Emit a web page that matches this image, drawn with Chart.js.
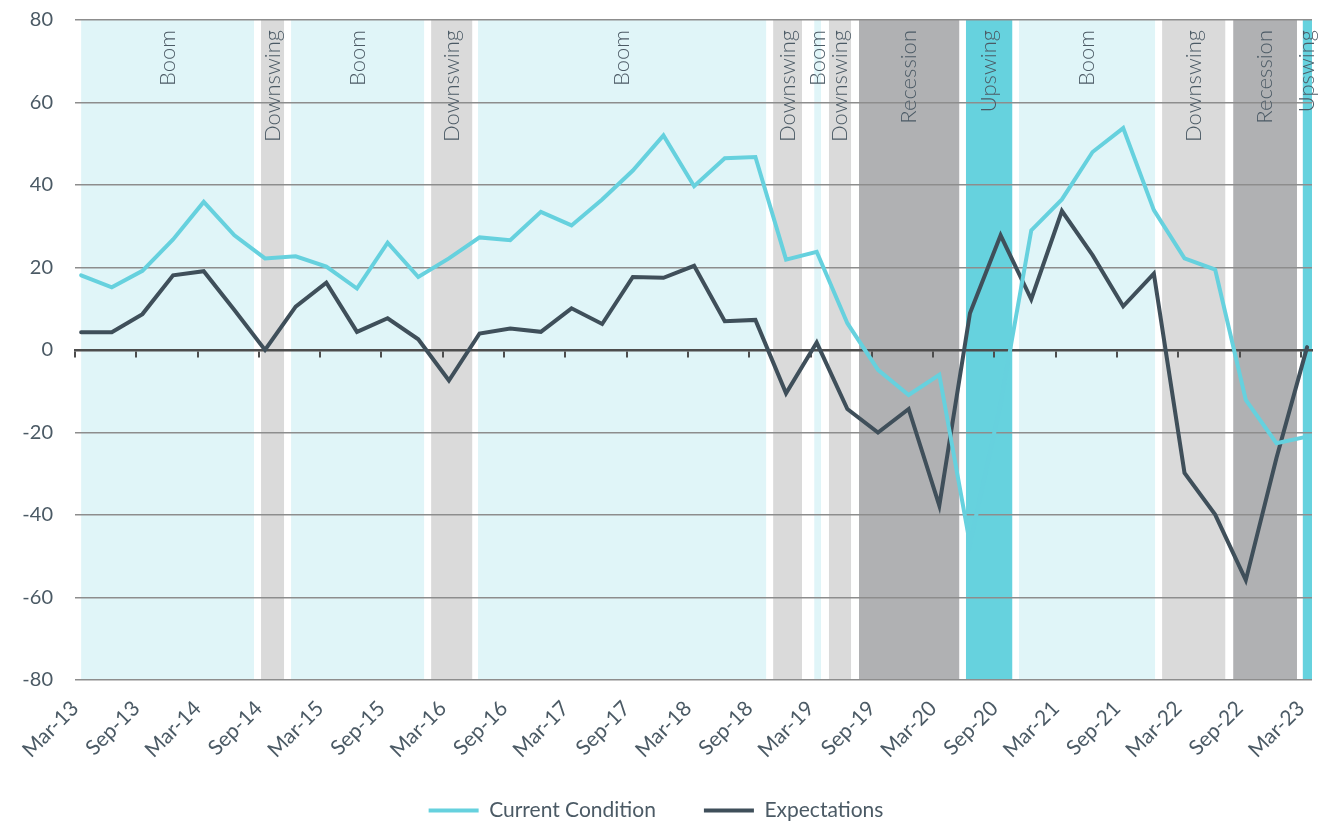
<!DOCTYPE html>
<html>
<head>
<meta charset="utf-8">
<script src="https://cdn.jsdelivr.net/npm/chart.js@4.4.1/dist/chart.umd.min.js"></script>
<style>
  body { margin: 0; background: #fff; }
  canvas { display: block; }
</style>
</head>
<body>
<canvas id="cycle" width="1325" height="821"></canvas>
<script>
// quarterly readings, Mar-13 .. Mar-23 (index 0 = Mar-13)
const currentCondition = [18.1, 15.2, 19.2, 26.8, 35.9, 27.8, 22.2, 22.7, 20.2, 14.9, 26.0, 17.7, 22.2, 27.3, 26.6,
  33.5, 30.2, 36.5, 43.5, 52.0, 39.7, 46.5, 46.8, 21.9, 23.8, 6.5, -4.8, -10.9, -6.0, -47, -13,
  29.0, 36.5, 48.0, 53.8, 33.9, 22.2, 19.5, -12.1, -22.6, -21.0]
const expectations = [4.3, 4.3, 8.7, 18.1, 19.1, 9.7, 0.0, 10.5, 16.3, 4.4, 7.7, 2.6, -7.4, 4.0, 5.2,
  4.4, 10.1, 6.3, 17.7, 17.5, 20.4, 7.0, 7.3, -10.5, 1.8, -14.3, -20.0, -14.3, -37.7, 8.9, 27.8,
  12.3, 33.7, 23.0, 10.6, 18.5, -29.8, -39.9, -55.8, -26.2, 0.7]

// x tick labels, one every two quarters
const tickLabels = ['Mar-13', 'Sep-13', 'Mar-14', 'Sep-14', 'Mar-15', 'Sep-15', 'Mar-16', 'Sep-16', 'Mar-17', 'Sep-17',
  'Mar-18', 'Sep-18', 'Mar-19', 'Sep-19', 'Mar-20', 'Sep-20', 'Mar-21', 'Sep-21', 'Mar-22', 'Sep-22', 'Mar-23']

// cycle phases, start / end in quarter index units
const bandPhase = ['Boom', 'Downswing', 'Boom', 'Downswing', 'Boom', 'Downswing', 'Boom', 'Downswing',
  'Recession', 'Upswing', 'Boom', 'Downswing', 'Recession', 'Upswing']
const bandStart = [0.0, 5.87, 6.85, 11.42, 12.95, 22.58, 23.92, 24.40, 25.38, 28.87, 30.60, 35.27, 37.59, 39.86]
const bandEnd = [5.64, 6.62, 11.19, 12.76, 22.35, 23.52, 24.14, 25.12, 28.65, 30.38, 35.04, 37.33, 39.67, 40.16]

const phaseColors = {
  Boom: '#e0f5f8',
  Downswing: '#dadada',
  Recession: '#b0b1b3',
  Upswing: '#66d2de',
}

const textColor = '#4b5a65'
const tickShift = -0.2 // date ticks sit a little left of the quarter points

Chart.defaults.font.family = 'Lato'
Chart.defaults.color = textColor

//! legend padding is also used as the gap between items, keep its box short
const LegendBox = Chart.registry.getPlugin('legend')._element
const legendFit = LegendBox.prototype.fit
LegendBox.prototype.fit = function () {
  legendFit.call(this)
  if (this.isHorizontal()) this.height = 51
}

// background bands + their labels
const phaseBands = {
  id: 'phaseBands',
  afterLayout(chart) {
    // pull legend row up, its padding pushes it down
    chart.legend.top -= 18
  },
  beforeDraw(chart) {
    const { ctx, chartArea, scales } = chart
    ctx.save()
    for (let i = 0; i < bandPhase.length; i++) {
      let x1 = scales.x.getPixelForValue(bandStart[i])
      let x2 = Math.min(scales.x.getPixelForValue(bandEnd[i]), chartArea.right)
      ctx.fillStyle = phaseColors[bandPhase[i]]
      ctx.fillRect(x1, chartArea.top, x2 - x1, chartArea.bottom - chartArea.top)
    }
    ctx.restore()
  },
  beforeDatasetsDraw(chart) {
    const { ctx, chartArea, scales } = chart
    ctx.save()
    ctx.font = '300 22px Lato'
    ctx.fillStyle = textColor
    ctx.textAlign = 'right'
    ctx.textBaseline = 'middle'
    for (let i = 0; i < bandPhase.length; i++) {
      let x1 = scales.x.getPixelForValue(bandStart[i])
      let x2 = scales.x.getPixelForValue(bandEnd[i])
      ctx.save()
      ctx.translate((x1 + x2) / 2, chartArea.top + 10)
      ctx.rotate(-Math.PI / 2)
      ctx.fillText(bandPhase[i], 0, 0)
      ctx.restore()
    }
    ctx.restore()
  }
}

const setDateTicks = scale => {
  scale.ticks = tickLabels.map((t, k) => ({ value: tickShift + 2 * k }))
}

new Chart(document.getElementById('cycle'), {
  type: 'line',
  data: {
    datasets: [
      {
        label: 'Current Condition',
        data: currentCondition.map((v, i) => ({ x: i, y: v })),
        borderColor: '#66d1de',
        backgroundColor: '#66d1de',
        borderWidth: 4,
        borderCapStyle: 'round',
        pointRadius: 0,
      },
      {
        label: 'Expectations',
        data: expectations.map((v, i) => ({ x: i, y: v })),
        borderColor: '#3f4f5a',
        backgroundColor: '#3f4f5a',
        borderWidth: 4,
        borderCapStyle: 'round',
        pointRadius: 0,
      },
    ],
  },
  options: {
    responsive: false,
    animation: false,
    devicePixelRatio: 1,
    layout: { padding: { top: 20, right: 13, left: 0, bottom: 0 } },
    plugins: {
      tooltip: { enabled: false },
      legend: {
        position: 'bottom',
        labels: {
          usePointStyle: true,
          pointStyle: 'line',
          pointStyleWidth: 50,
          padding: 48,
          font: { size: 21 },
          color: textColor,
        },
      },
    },
    scales: {
      x: {
        type: 'linear',
        min: tickShift,
        max: 40.16,
        afterBuildTicks: setDateTicks,
        afterFit: scale => {
          scale.height = 90
          scale.paddingLeft = 0
          scale.paddingRight = 0
        },
        grid: { display: false },
        border: { display: false },
        ticks: {
          autoSkip: false,
          maxRotation: 45,
          minRotation: 45,
          padding: 8,
          font: { size: 21 },
          color: textColor,
          callback: (value, index) => tickLabels[index],
        },
      },
      x2: {
        type: 'linear',
        position: { y: 0 },
        min: tickShift,
        max: 40.16,
        afterBuildTicks: setDateTicks,
        grid: { drawOnChartArea: false, drawTicks: true, tickLength: 6, color: '#4d4d4d', lineWidth: 2 },
        border: { display: true, color: '#4d4d4d', width: 2.5 },
        ticks: { display: false },
      },
      y: {
        min: -80,
        max: 80,
        afterFit: scale => {
          scale.width = 75
          scale.paddingTop = 0
          scale.paddingBottom = 0
        },
        grid: { color: '#8d8d8d', lineWidth: 1.5, drawTicks: false },
        border: { display: false },
        ticks: {
          stepSize: 20,
          padding: 22,
          font: { size: 20 },
          color: textColor,
        },
      },
    },
  },
  plugins: [phaseBands],
})
</script>
</body>
</html>
